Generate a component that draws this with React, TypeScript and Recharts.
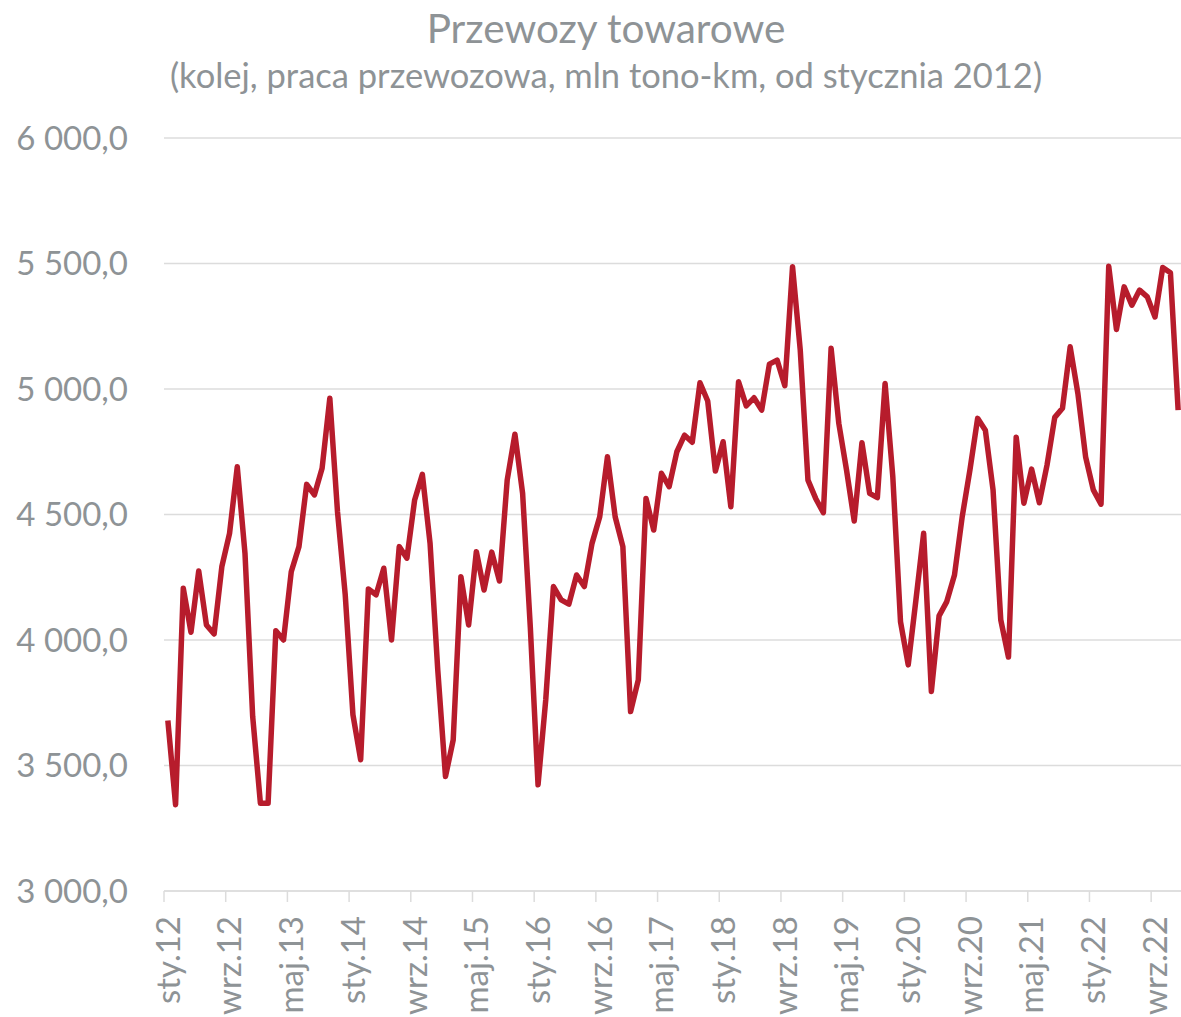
import React from 'react';
import { LineChart, Line, XAxis, YAxis, CartesianGrid } from 'recharts';

const monthNames = ['sty', 'lut', 'mar', 'kwi', 'maj', 'cze', 'lip', 'sie', 'wrz', 'paź', 'lis', 'gru'];
const years = ['12', '13', '14', '15', '16', '17', '18', '19', '20', '21', '22'];

// Monthly values, Jan 2012 – Dec 2022 (mln tono-km)
const values2012 = [3679, 3344, 4206, 4031, 4275, 4060, 4024, 4292, 4425, 4690, 4346, 3695];
const values2013 = [3350, 3350, 4037, 4000, 4272, 4372, 4620, 4578, 4684, 4963, 4510, 4180];
const values2014 = [3702, 3523, 4203, 4180, 4286, 4000, 4372, 4326, 4558, 4660, 4385, 3880];
const values2015 = [3456, 3602, 4252, 4060, 4352, 4199, 4350, 4235, 4637, 4820, 4584, 4050];
const values2016 = [3423, 3762, 4213, 4160, 4143, 4259, 4213, 4385, 4491, 4730, 4491, 4372];
const values2017 = [3715, 3841, 4564, 4438, 4664, 4611, 4750, 4816, 4788, 5025, 4952, 4673];
const values2018 = [4790, 4531, 5029, 4933, 4965, 4916, 5099, 5115, 5013, 5487, 5155, 4637];
const values2019 = [4564, 4507, 5162, 4863, 4677, 4474, 4786, 4584, 4567, 5022, 4651, 4073];
const values2020 = [3901, 4160, 4425, 3795, 4096, 4153, 4259, 4491, 4677, 4883, 4836, 4598];
const values2021 = [4080, 3932, 4808, 4545, 4681, 4547, 4697, 4887, 4923, 5168, 4982, 4730];
const values2022 = [4598, 4541, 5489, 5237, 5407, 5334, 5394, 5367, 5287, 5484, 5463, 4916];

const allValues = [
  ...values2012, ...values2013, ...values2014, ...values2015, ...values2016, ...values2017,
  ...values2018, ...values2019, ...values2020, ...values2021, ...values2022,
];

const categories = years.flatMap((y) => monthNames.map((m) => `${m}.${y}`));
const tickIndices = [0, 8, 16, 24, 32, 40, 48, 56, 64, 72, 80, 88, 96, 104, 112, 120, 128];
const yTicks = [3000, 3500, 4000, 4500, 5000, 5500, 6000];

const data = categories.map((c, i) => ({ i, label: c, value: allValues[i] }));

const CHART_W = 1190;
const CHART_H = 1017;
const Y_AXIS_W = 164;
const RIGHT = 8;
const PLOT_W = CHART_W - Y_AXIS_W - RIGHT;
const HALF_BAND = PLOT_W / categories.length / 2;

const TEXT = '#8E9396';
const GRID = '#DCDCDC';
const FONT = 'Lato, "Open Sans", sans-serif';

const fmtY = (v: number) => {
  const th = Math.floor(v / 1000);
  const rest = String(v % 1000).padStart(3, '0');
  return `${th} ${rest},0`;
};

const XTick = (props: any) => {
  const { x, y, payload } = props;
  const idx = payload.value as number;
  const lx = x - HALF_BAND;
  return (
    <g>
      <line x1={lx} x2={lx} y1={y} y2={y + 11} stroke={GRID} strokeWidth={1.5} />
      <text
        x={x}
        y={y + 25}
        transform={`rotate(-90, ${x}, ${y + 25})`}
        textAnchor="end"
        dy="0.36em"
        fill={TEXT}
        fontSize={33}
        fontFamily={FONT}
      >
        {categories[idx]}
      </text>
    </g>
  );
};

export default function App() {
  return (
    <div style={{ position: 'absolute', left: 0, top: 0, width: 1181, height: 1017, overflow: 'hidden', background: '#fff' }}>
      <div
        style={{
          position: 'absolute', left: 0, width: 1212, top: 4, textAlign: 'center',
          fontFamily: FONT, fontSize: 40.5, color: TEXT, lineHeight: '48px', whiteSpace: 'nowrap',
        }}
      >
        Przewozy towarowe
      </div>
      <div
        style={{
          position: 'absolute', left: 0, width: 1212, top: 55, textAlign: 'center',
          fontFamily: FONT, fontSize: 34.5, color: TEXT, lineHeight: '40px', whiteSpace: 'nowrap',
        }}
      >
        (kolej, praca przewozowa, mln tono-km, od stycznia 2012)
      </div>
      <LineChart
        width={CHART_W}
        height={CHART_H}
        data={data}
        margin={{ top: 138, right: RIGHT, bottom: 0, left: 0 }}
      >
        <CartesianGrid vertical={false} stroke={GRID} strokeWidth={1.5} />
        <XAxis
          dataKey="i"
          type="number"
          domain={[-0.5, categories.length - 0.5]}
          ticks={tickIndices}
          interval={0}
          height={CHART_H - 891}
          tickLine={false}
          tickSize={0}
          tickMargin={0}
          axisLine={{ stroke: GRID, strokeWidth: 1.5 }}
          tick={<XTick />}
        />
        <YAxis
          type="number"
          domain={[3000, 6000]}
          ticks={yTicks}
          width={Y_AXIS_W}
          axisLine={false}
          tickLine={false}
          tickSize={0}
          tickMargin={36}
          tickFormatter={fmtY}
          tick={{ fill: TEXT, fontSize: 33, fontFamily: FONT }}
        />
        <Line
          type="linear"
          dataKey="value"
          stroke="#B71C2C"
          strokeWidth={5.5}
          dot={false}
          strokeLinejoin="round"
          isAnimationActive={false}
        />
      </LineChart>
    </div>
  );
}
